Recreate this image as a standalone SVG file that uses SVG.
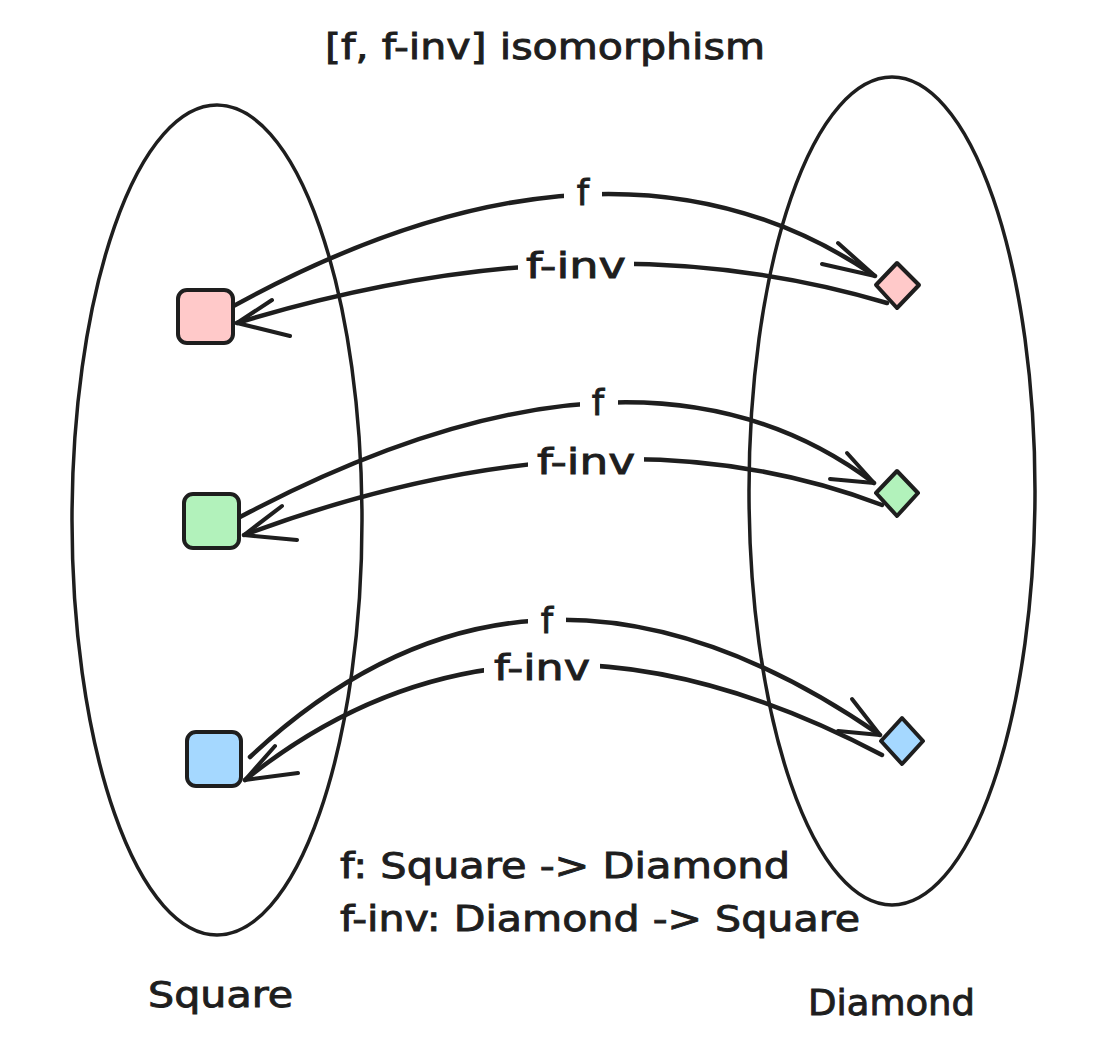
<svg xmlns="http://www.w3.org/2000/svg" width="1106" height="1062" viewBox="0 0 1106 1062">
<defs>
<style>
.set{fill:none;stroke:#1e1e1e;stroke-width:3.5}
.node{stroke:#1e1e1e;stroke-width:4;stroke-linejoin:round}
.edge{fill:none;stroke:#1e1e1e;stroke-width:4.5;stroke-linecap:round;stroke-linejoin:round}
.head{fill:none;stroke:#1e1e1e;stroke-width:4;stroke-linecap:round;stroke-linejoin:round}
.lbl{font-family:"DejaVu Sans","Liberation Sans",sans-serif;font-size:35px;fill:#1e1e1e;stroke:#1e1e1e;stroke-width:0.9;text-anchor:middle}
.txt{font-family:"DejaVu Sans","Liberation Sans",sans-serif;font-size:35px;fill:#1e1e1e;stroke:#1e1e1e;stroke-width:0.9}
.bg{fill:#ffffff}
</style>
</defs>
<rect x="0" y="0" width="1106" height="1062" fill="#ffffff"/>

<g id="set-square">
<ellipse class="set" cx="217" cy="520" rx="145" ry="415"/>
<text class="txt" x="148" y="1007" textLength="145" lengthAdjust="spacingAndGlyphs">Square</text>
</g>
<g id="set-diamond">
<ellipse class="set" cx="892" cy="491" rx="143" ry="414"/>
<text class="txt" x="808" y="1015" textLength="167" lengthAdjust="spacingAndGlyphs">Diamond</text>
</g>

<g id="connectors">
<!-- row 1 -->
<path class="edge" d="M 212 318 Q 606 93 875 276"/>
<path class="head" d="M 838 243 L 875 276 L 822 264"/>
<path class="edge" d="M 887 303 Q 592 215 237 323"/>
<path class="head" d="M 272 300 L 237 323 L 290 336"/>
<!-- row 2 -->
<path class="edge" d="M 240 517 Q 639 306 874 483"/>
<path class="head" d="M 847 453 L 874 483 L 830 479"/>
<path class="edge" d="M 882 505 Q 607 400 244 535"/>
<path class="head" d="M 282 506 L 244 535 L 297 540"/>
<!-- row 3 -->
<path class="edge" d="M 250 757 Q 531 494 880 735"/>
<path class="head" d="M 852 699 L 880 735 L 838 731"/>
<path class="edge" d="M 882 755 Q 516 562 245 780"/>
<path class="head" d="M 275 746 L 245 780 L 298 773"/>
</g>

<g id="labels">
<rect class="bg" x="564" y="172" width="38" height="40"/>
<text class="lbl" x="583" y="205">f</text>
<rect class="bg" x="518" y="243" width="116" height="42"/>
<text class="lbl" x="576" y="278" textLength="100" lengthAdjust="spacingAndGlyphs">f-inv</text>
<rect class="bg" x="580" y="382" width="38" height="40"/>
<text class="lbl" x="598" y="415">f</text>
<rect class="bg" x="528" y="439" width="116" height="42"/>
<text class="lbl" x="586" y="474" textLength="98" lengthAdjust="spacingAndGlyphs">f-inv</text>
<rect class="bg" x="528" y="600" width="38" height="40"/>
<text class="lbl" x="547" y="633">f</text>
<rect class="bg" x="484" y="645" width="116" height="42"/>
<text class="lbl" x="542" y="680" textLength="96" lengthAdjust="spacingAndGlyphs">f-inv</text>
</g>

<g id="node-square-red">
<rect class="node" x="178" y="290" width="55" height="53" rx="9" fill="#ffc9c9"/>
</g>
<g id="node-square-green">
<rect class="node" x="184" y="494" width="55" height="54" rx="9" fill="#b2f2bb"/>
</g>
<g id="node-square-blue">
<rect class="node" x="187" y="732" width="54" height="54" rx="9" fill="#a5d8ff"/>
</g>
<g id="node-diamond-red">
<path class="node" d="M 897 263 L 919 285 L 897 308 L 876 285 Z" fill="#ffc9c9"/>
</g>
<g id="node-diamond-green">
<path class="node" d="M 897 471 L 918 493 L 897 516 L 876 493 Z" fill="#b2f2bb"/>
</g>
<g id="node-diamond-blue">
<path class="node" d="M 902 718 L 923 741 L 902 764 L 881 741 Z" fill="#a5d8ff"/>
</g>

<g id="title">
<text class="txt" x="325" y="59" textLength="440" lengthAdjust="spacingAndGlyphs">[f, f-inv] isomorphism</text>
</g>
<g id="legend">
<text class="txt" x="340" y="878" textLength="450" lengthAdjust="spacingAndGlyphs">f: Square -&gt; Diamond</text>
<text class="txt" x="340" y="931" textLength="520" lengthAdjust="spacingAndGlyphs">f-inv: Diamond -&gt; Square</text>
</g>
</svg>
